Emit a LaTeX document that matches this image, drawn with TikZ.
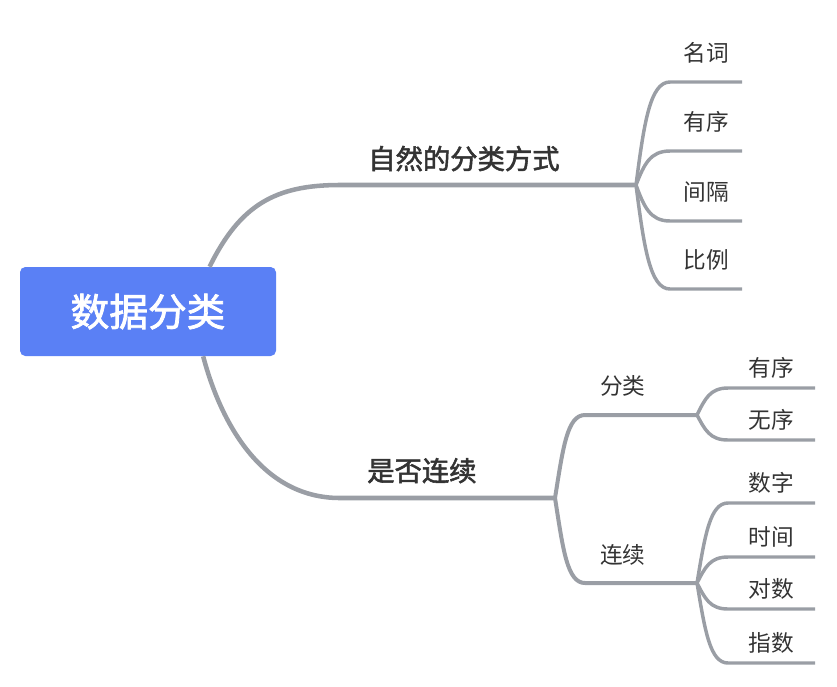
\documentclass[tikz,border=0pt]{standalone}
\usepackage{fontspec}
\setmainfont{Noto Sans CJK SC}
\newfontfamily\cjkmed[FakeBold=2]{Noto Sans CJK SC}
\usetikzlibrary{calc}

\definecolor{rootblue}{RGB}{90,128,245}
\definecolor{linegray}{RGB}{154,158,165}
\definecolor{textdark}{RGB}{51,51,51}

\begin{document}
\begin{tikzpicture}[
  x=0.75pt, y=-0.75pt,
  rootbox/.style={fill=rootblue, rounded corners=4pt, inner sep=0pt, minimum width=192pt, minimum height=66.75pt, text=white, font=\fontsize{29}{29}\cjkmed},
  mainlab/.style={anchor=base west, inner sep=0pt, text=textdark, font=\fontsize{20.5}{20.5}\cjkmed},
  sublab/.style={anchor=base west, inner sep=0pt, text=textdark, font=\fontsize{17}{17}\selectfont},
  leaflab/.style={anchor=base, inner sep=0pt, text=textdark, font=\fontsize{17}{17}\selectfont},
  trunk/.style={draw=linegray, line width=3.4pt},
  bough/.style={draw=linegray, line width=3pt},
  twig/.style={draw=linegray, line width=2.6pt}
]
\useasboundingbox (0,0) rectangle (837,686);

% Root
\node[rootbox] (root) at (148,311.5) {数据分类};
\coordinate (rA) at ($(root.north west)!0.74!(root.north east)$);
\coordinate (rB) at ($(root.south west)!0.715!(root.south east)$);

% Main branches
\coordinate (a0) at (340,185);
\coordinate (jA) at (636,185);
\coordinate (b0) at (340,498);
\coordinate (jB) at (555,498);
\draw[trunk] (rA) .. controls (240,205) and (275,185) .. (a0) -- (jA);
\draw[trunk] (rB) .. controls (220,420) and (260,498) .. (b0) -- (jB);
\node[mainlab] (natural) at ($(a0)+(28,-16)$) {自然的分类方式};
\node[mainlab] (contin) at ($(b0)+(27,-17)$) {是否连续};

% Natural classification leaves
\foreach \y/\txt [count=\i] in {82/名词,151/有序,221/间隔,289/比例} {
  \coordinate (sA\i) at (670,\y);
  \coordinate (eA\i) at (742,\y);
  \draw[twig] (jA) .. controls ($(jA)!0.6!(jA |- sA\i)+(8,0)$) and +(-20,0) .. (sA\i) -- (eA\i);
  \node[leaflab] (lA\i) at ($(sA\i)!0.5!(eA\i)+(0,-21)$) {\txt};
}

% Discrete / continuous
\coordinate (sB1) at (585,415);
\coordinate (jB1) at (697,415);
\coordinate (sB2) at (585,583);
\coordinate (jB2) at (697,583);
\draw[bough] (jB) .. controls ($(jB)!0.6!(jB |- sB1)+(8,0)$) and +(-18,0) .. (sB1) -- (jB1);
\draw[bough] (jB) .. controls ($(jB)!0.6!(jB |- sB2)+(8,0)$) and +(-18,0) .. (sB2) -- (jB2);
\node[sublab] (categ) at ($(sB1)+(15,-21)$) {分类};
\node[sublab] (cont) at ($(sB2)+(15,-20)$) {连续};

% Category leaves
\foreach \y/\txt [count=\i] in {388/有序,440/无序} {
  \coordinate (sC\i) at (728,\y);
  \coordinate (eC\i) at (815,\y);
  \draw[twig] (jB1) .. controls ($(jB1)!0.6!(jB1 |- sC\i)+(8,0)$) and +(-18,0) .. (sC\i) -- (eC\i);
  \node[leaflab] (lC\i) at ($(sC\i)!0.5!(eC\i)+(0,-12)$) {\txt};
}

% Continuous leaves
\foreach \y/\txt [count=\i] in {503/数字,557/时间,609/对数,663/指数} {
  \coordinate (sD\i) at (728,\y);
  \coordinate (eD\i) at (815,\y);
  \draw[twig] (jB2) .. controls ($(jB2)!0.6!(jB2 |- sD\i)+(8,0)$) and +(-18,0) .. (sD\i) -- (eD\i);
  \node[leaflab] (lD\i) at ($(sD\i)!0.5!(eD\i)+(0,-12)$) {\txt};
}

\end{tikzpicture}
\end{document}
